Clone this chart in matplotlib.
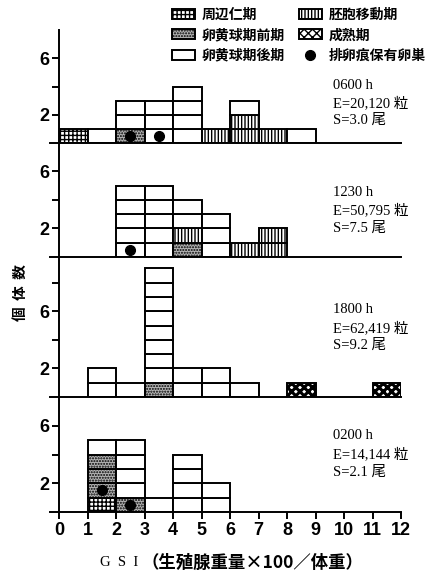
import matplotlib
matplotlib.use("Agg")
import matplotlib.pyplot as plt
from matplotlib.patches import Patch
from matplotlib.lines import Line2D

# ---------------- data ----------------
bin_edges = list(range(12))          # lower edge of each GSI class (width 1)
x_ticks = list(range(13))

# stage codes per individual, bottom to top, for each GSI class
# P=周辺仁期, M=胚胞移動期, E=卵黄球期前期, R=成熟期, L=卵黄球期後期
stack_0600 = ["P", "L", "ELL", "LLL", "LLLL", "M", "MML", "M", "L", "", "", ""]
stack_1230 = ["", "", "LLLLL", "LLLLL", "EMLL", "LLL", "M", "MM", "", "", "", ""]
stack_1800 = ["", "LL", "L", "ELLLLLLLL", "LL", "LL", "L", "", "R", "", "", "R"]
stack_0200 = ["", "PEEEL", "ELLLL", "L", "LLLL", "LL", "", "", "", "", "", ""]

# ovaries with post-ovulatory follicles: (class lower edge, level index)
ovul_0600 = [(2, 0), (3, 0)]
ovul_1230 = [(2, 0)]
ovul_1800 = []
ovul_0200 = [(1, 1), (2, 0)]

hours = ["0600 h", "1230 h", "1800 h", "0200 h"]
eggs = ["E=20,120 粒", "E=50,795 粒", "E=62,419 粒", "E=14,144 粒"]
spawners = ["S=3.0 尾", "S=7.5 尾", "S=9.2 尾", "S=2.1 尾"]
ymax = [8, 8, 9.8, 8]

stage_names = {"P": "周辺仁期", "E": "卵黄球期前期", "L": "卵黄球期後期",
               "M": "胚胞移動期", "R": "成熟期"}
ovul_name = "排卵痕保有卵巣"

# ---------------- style ----------------
styles = {
    "P": dict(facecolor="white", hatch="++++"),
    "E": dict(facecolor="#b4b4b4", hatch="......"),
    "L": dict(facecolor="white", hatch=None),
    "M": dict(facecolor="white", hatch="|||||"),
    "R": dict(facecolor="white", hatch="xxxx"),
}

cjk = ["Noto Sans CJK JP", "DejaVu Sans"]
serif = ["Liberation Serif", "Noto Sans CJK JP"]
narrow = ["Liberation Sans Narrow", "Liberation Sans", "DejaVu Sans"]

W, H = 432, 584
fig = plt.figure(figsize=(W / 100, H / 100), dpi=100)
left_px, right_px = 59, 401
bounds = [(30, 143), (143, 257), (257, 397), (397, 512)]

stacks = [stack_0600, stack_1230, stack_1800, stack_0200]
ovuls = [ovul_0600, ovul_1230, ovul_1800, ovul_0200]
text_y = [(4.1, 2.85, 1.6), (4.5, 3.25, 2.0), (6.1, 4.85, 3.6), (5.3, 4.05, 2.75)]

lw = 1.4
axes = []
for i, (top, bot) in enumerate(bounds):
    ax = fig.add_axes([left_px / W, 1 - bot / H, (right_px - left_px) / W, (bot - top) / H])
    axes.append(ax)
    ax.set_xlim(0, 12)
    ax.set_ylim(0, ymax[i])
    ax.patch.set_alpha(0)
    for s in ["top", "right", "bottom"]:
        ax.spines[s].set_visible(False)
    ax.spines["left"].set_linewidth(lw)

    # stacked individual boxes
    for x0, col in zip(bin_edges, stacks[i]):
        for lvl, code in enumerate(col):
            st = styles[code]
            bars = ax.bar(x0 + 0.5, 1, bottom=lvl, width=1, facecolor=st["facecolor"],
                          edgecolor="black", linewidth=lw, hatch=st["hatch"], zorder=2)
            if code == "R":
                for b in bars:
                    if hasattr(b, "set_hatch_linewidth"):
                        b.set_hatch_linewidth(2.2)
    for x0, lvl in ovuls[i]:
        ax.plot(x0 + 0.5, lvl + 0.5, "o", color="black", markersize=7, zorder=4)

    # baseline
    ax.plot([-0.32, 12], [0, 0], color="black", lw=lw, clip_on=False, zorder=3)

    yt = [2, 4, 6] + ([8] if ymax[i] > 8.5 else [])
    ax.set_yticks(yt)
    ax.set_yticklabels(["2" if v == 2 else "6" if v == 6 else "" for v in yt],
                       fontfamily=narrow, fontweight="bold", fontsize=13)
    ax.tick_params(axis="y", direction="out", length=5, width=lw, pad=2)

    if i < 3:
        ax.set_xticks([])
    else:
        ax.set_xticks(x_ticks)
        ax.set_xticklabels([str(v) for v in x_ticks], fontfamily=narrow,
                           fontweight="bold", fontsize=13)
        ax.tick_params(axis="x", direction="out", length=5, width=lw, pad=2)

    ty = text_y[i]
    for txt, yy in zip([hours[i], eggs[i], spawners[i]], ty):
        ax.text(9.6, yy, txt, fontfamily=serif, fontsize=10.5, va="center", ha="left")

# y label
fig.text(20 / W, 1 - 293 / H, "個  体  数", rotation=90, ha="center", va="center",
         fontfamily=cjk, fontweight="bold", fontsize=10.5)
# x label (two parts: serif letters, gothic bracketed text)
fig.text(100 / W, 1 - 563 / H, "G  S  I", ha="left", va="center",
         fontfamily=serif, fontsize=10.5)
fig.text(363 / W, 1 - 563 / H, "（生殖腺重量×100／体重）", ha="right", va="center",
         fontfamily=cjk, fontweight="bold", fontsize=12.5)

# legend
order = ["P", "E", "L", "M", "R"]
handles = [Patch(facecolor=styles[c]["facecolor"], edgecolor="black", linewidth=lw,
                 hatch=styles[c]["hatch"], label=stage_names[c]) for c in order]
handles.append(Line2D([], [], marker="o", color="black", linestyle="none",
                      markersize=7, label=ovul_name))
leg = axes[0].legend(handles=handles, ncol=2, loc="upper left",
                     bbox_to_anchor=(172 / W, 1 - 8 / H), bbox_transform=fig.transFigure,
                     frameon=False, prop={"family": cjk, "weight": "bold", "size": 10},
                     handlelength=1.65, handleheight=0.75, handletextpad=0.5,
                     columnspacing=1.0, labelspacing=0.45, borderpad=0, borderaxespad=0)

fig.savefig("out.png", dpi=100)
